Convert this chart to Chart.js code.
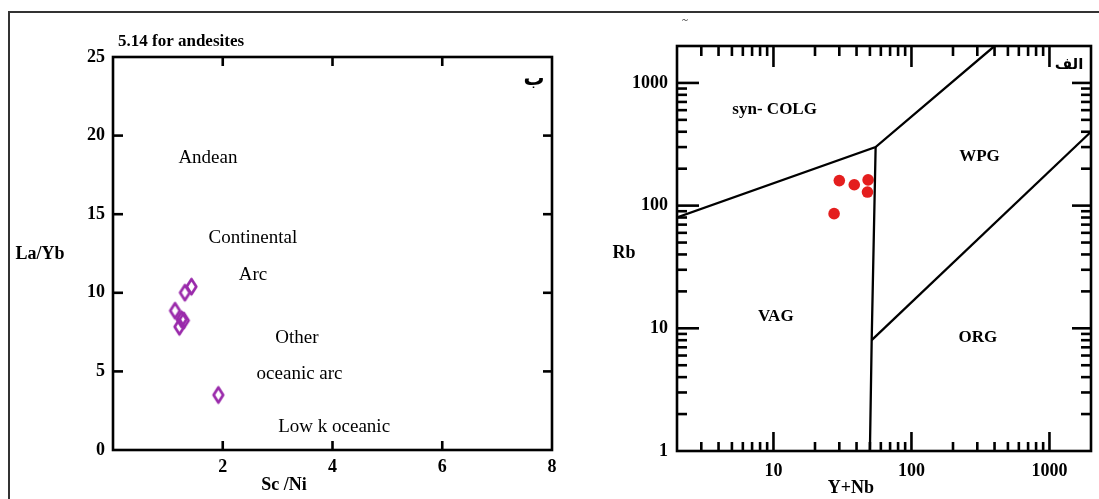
<!DOCTYPE html>
<html><head><meta charset="utf-8">
<script src="https://cdn.jsdelivr.net/npm/chart.js@4"></script>
<style>
html,body{margin:0;padding:0;background:#fff;}
#wrap{position:relative;width:1099px;height:499px;overflow:hidden;background:#fff;}
canvas{position:absolute;top:0;}
#c1{left:0;} #c2{left:560px;}
</style></head><body>
<div id="wrap"><canvas id="c1" width="560" height="499"></canvas><canvas id="c2" width="539" height="499"></canvas></div>
<script>
// ---------- Left panel data (La/Yb vs Sc/Ni) ----------
const scNi = [1.43, 1.31, 1.13, 1.25, 1.29, 1.21, 1.92];
const laYb = [10.39, 10.01, 8.86, 8.31, 8.24, 7.84, 3.50];
const leftXTicks = [0, 2, 4, 6, 8];
const leftXTickLabels = ['', '2', '4', '6', '8'];
const leftYTicks = [0, 5, 10, 15, 20, 25];
const leftYTickLabels = ['0', '5', '10', '15', '20', '25'];
const leftRegionText = ['Andean', 'Continental', 'Arc', 'Other', 'oceanic arc', 'Low k oceanic'];
const leftRegionX = [1.73, 2.55, 2.55, 3.35, 3.40, 4.03];
const leftRegionY = [18.58, 13.49, 11.13, 7.12, 4.83, 1.48];

// ---------- Right panel data (Rb vs Y+Nb) ----------
const yNb = [30, 38.5, 48.5, 48, 27.5];
const rb = [160, 148, 162, 129, 86];
const rightXMajor = [10, 100, 1000];
const rightXTickLabels = ['10', '100', '1000'];
const rightYMajor = [1, 10, 100, 1000];
const rightYTickLabels = ['1', '10', '100', '1000'];
const colgVagLine = [{x: 2, y: 80}, {x: 55, y: 300}, {x: 400, y: 2000}];
const vagOrgLine = [{x: 55, y: 300}, {x: 51.5, y: 8}, {x: 50, y: 1}];
const wpgOrgLine = [{x: 51.5, y: 8}, {x: 2000, y: 400}];
const rightRegionText = ['syn- COLG', 'VAG', 'WPG', 'ORG'];
const rightRegionX = [10.2, 10.4, 311, 303];
const rightRegionY = [603, 12.5, 250, 8.45];

const SERIF = "'Liberation Serif', 'Times New Roman', serif";
const tickFont = {family: SERIF, size: 18, weight: 'bold'};

function diamondStyle() {
  const c = document.createElement('canvas');
  c.width = 15; c.height = 21;
  const g = c.getContext('2d');
  g.strokeStyle = '#9a2aab'; g.lineWidth = 2.7; g.lineJoin = 'round';
  g.beginPath(); g.moveTo(7.5, 3); g.lineTo(12.3, 10.5); g.lineTo(7.5, 18); g.lineTo(2.7, 10.5); g.closePath();
  g.stroke();
  return c;
}
function line(ctx, x1, y1, x2, y2) { ctx.beginPath(); ctx.moveTo(x1, y1); ctx.lineTo(x2, y2); ctx.stroke(); }
function txt(ctx, s, x, y, font, align) {
  ctx.font = font; ctx.textAlign = align || 'center'; ctx.textBaseline = 'middle'; ctx.fillStyle = '#000';
  ctx.fillText(s, x, y);
}
function noPad(s) { s.paddingLeft = 0; s.paddingRight = 0; s.paddingTop = 0; s.paddingBottom = 0; }

const leftPlugin = {
  id: 'leftDeco',
  afterDraw(chart) {
    const ctx = chart.ctx, a = chart.chartArea, xs = chart.scales.x, ys = chart.scales.y;
    ctx.save();
    ctx.strokeStyle = '#333'; ctx.lineWidth = 2;
    line(ctx, 9, 12, 9, 499); line(ctx, 8, 12, 560, 12);
    ctx.strokeStyle = '#000'; ctx.lineWidth = 2.6;
    ctx.strokeRect(a.left, a.top, a.right - a.left, a.bottom - a.top);
    leftYTicks.forEach(v => {
      if (v <= ys.min || v >= ys.max) return;
      const p = ys.getPixelForValue(v);
      line(ctx, a.left, p, a.left + 10, p); line(ctx, a.right, p, a.right - 9, p);
    });
    leftXTicks.forEach(v => {
      if (v <= xs.min || v >= xs.max) return;
      const p = xs.getPixelForValue(v);
      line(ctx, p, a.bottom, p, a.bottom - 9); line(ctx, p, a.top, p, a.top + 9);
    });
    leftRegionText.forEach((s, i) => {
      txt(ctx, s, xs.getPixelForValue(leftRegionX[i]), ys.getPixelForValue(leftRegionY[i]), "19px " + SERIF);
    });
    txt(ctx, '5.14 for andesites', 118, 42, "bold 17px " + SERIF, 'left');
    txt(ctx, 'La/Yb', 40, 254, "bold 18px " + SERIF);
    txt(ctx, 'Sc /Ni', 284, 485, "bold 18px " + SERIF);
    txt(ctx, 'ب', 534, 80, "bold 21px 'DejaVu Sans', sans-serif");
    ctx.restore();
  }
};

const rightPlugin = {
  id: 'rightDeco',
  afterDraw(chart) {
    const ctx = chart.ctx, a = chart.chartArea, xs = chart.scales.x, ys = chart.scales.y;
    ctx.save();
    ctx.strokeStyle = '#333'; ctx.lineWidth = 2;
    line(ctx, 0, 12, 539, 12);
    ctx.strokeStyle = '#000'; ctx.lineWidth = 2.6;
    ctx.strokeRect(a.left, a.top, a.right - a.left, a.bottom - a.top);
    for (let d = 1; d <= 1000; d *= 10) {
      for (let m = 1; m <= 9; m++) {
        const v = d * m, major = (m === 1);
        if (v > xs.min && v < xs.max) {
          const p = xs.getPixelForValue(v);
          line(ctx, p, a.bottom, p, a.bottom - (major ? 19 : 9)); line(ctx, p, a.top, p, a.top + (major ? 21 : 10));
        }
        if (v > ys.min && v < ys.max) {
          const p = ys.getPixelForValue(v);
          line(ctx, a.left, p, a.left + (major ? 22 : 10), p); line(ctx, a.right, p, a.right - (major ? 19 : 10), p);
        }
      }
    }
    rightRegionText.forEach((s, i) => {
      txt(ctx, s, xs.getPixelForValue(rightRegionX[i]), ys.getPixelForValue(rightRegionY[i]), "bold 17px " + SERIF);
    });
    txt(ctx, 'Rb', 64, 253, "bold 18px " + SERIF);
    txt(ctx, 'Y+Nb', 291, 488, "bold 18px " + SERIF);
    txt(ctx, 'الف', 509, 65, "bold 15px 'DejaVu Sans', sans-serif");
    txt(ctx, '~', 125, 20, "11px " + SERIF);
    ctx.restore();
  }
};

new Chart(document.getElementById('c1'), {
  type: 'scatter',
  data: {datasets: [{
    data: scNi.map((x, i) => ({x: x, y: laYb[i]})),
    pointStyle: diamondStyle(), pointRadius: 7
  }]},
  options: {
    responsive: false, animation: false,
    layout: {padding: {left: 0, right: 8, top: 57, bottom: 0}},
    plugins: {legend: {display: false}, tooltip: {enabled: false}},
    scales: {
      x: {type: 'linear', min: 0, max: 8,
        grid: {display: false, drawTicks: false}, border: {display: false},
        afterBuildTicks: s => { s.ticks = leftXTicks.map(v => ({value: v})); },
        afterFit: s => { s.height = 49; noPad(s); },
        ticks: {autoSkip: false, maxRotation: 0, color: '#000', font: tickFont, padding: 7,
          callback: (v) => leftXTickLabels[leftXTicks.indexOf(v)]}},
      y: {type: 'linear', min: 0, max: 25,
        grid: {display: false, drawTicks: false}, border: {display: false},
        afterBuildTicks: s => { s.ticks = leftYTicks.map(v => ({value: v})); },
        afterFit: s => { s.width = 113; noPad(s); },
        ticks: {autoSkip: false, color: '#000', font: tickFont, padding: 8,
          callback: (v) => leftYTickLabels[leftYTicks.indexOf(v)]}}
    }
  },
  plugins: [leftPlugin]
});

new Chart(document.getElementById('c2'), {
  type: 'scatter',
  data: {datasets: [
    {data: colgVagLine, showLine: true, borderColor: '#000', borderWidth: 2.3, pointRadius: 0, tension: 0},
    {data: vagOrgLine, showLine: true, borderColor: '#000', borderWidth: 2.3, pointRadius: 0, tension: 0},
    {data: wpgOrgLine, showLine: true, borderColor: '#000', borderWidth: 2.3, pointRadius: 0, tension: 0},
    {data: yNb.map((x, i) => ({x: x, y: rb[i]})), pointRadius: 5.8, backgroundColor: '#e41e1e', borderWidth: 0, pointStyle: 'circle'}
  ]},
  options: {
    responsive: false, animation: false,
    layout: {padding: {left: 0, right: 8, top: 46, bottom: 0}},
    plugins: {legend: {display: false}, tooltip: {enabled: false}},
    scales: {
      x: {type: 'logarithmic', min: 2, max: 2000,
        grid: {display: false, drawTicks: false}, border: {display: false},
        afterBuildTicks: s => { s.ticks = rightXMajor.map(v => ({value: v})); },
        afterFit: s => { s.height = 48; noPad(s); },
        ticks: {autoSkip: false, maxRotation: 0, color: '#000', font: tickFont, padding: 10,
          callback: (v) => rightXTickLabels[rightXMajor.indexOf(v)]}},
      y: {type: 'logarithmic', min: 1, max: 2000,
        grid: {display: false, drawTicks: false}, border: {display: false},
        afterBuildTicks: s => { s.ticks = rightYMajor.map(v => ({value: v})); },
        afterFit: s => { s.width = 117; noPad(s); },
        ticks: {autoSkip: false, color: '#000', font: tickFont, padding: 9,
          callback: (v) => rightYTickLabels[rightYMajor.indexOf(v)]}}
    }
  },
  plugins: [rightPlugin]
});
</script>
</body></html>
